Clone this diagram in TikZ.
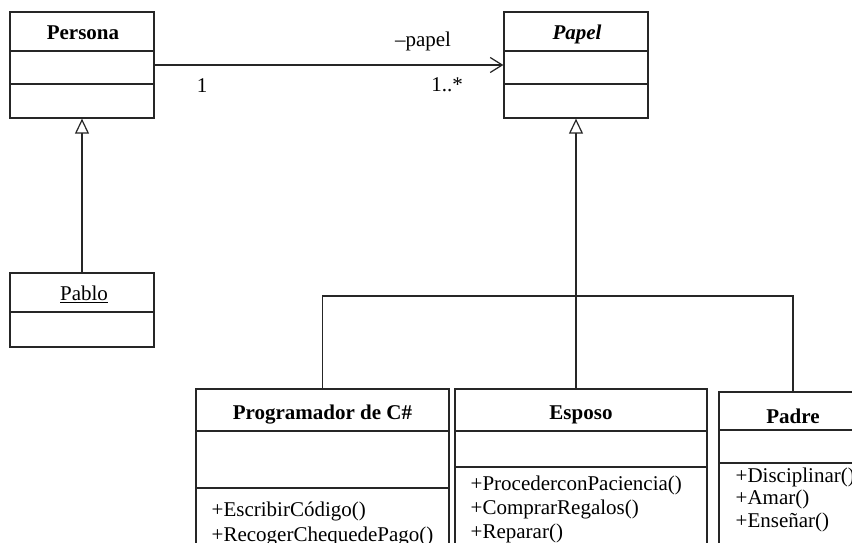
\documentclass[tikz,border=0pt]{standalone}
\usepackage{fontspec}
\setmainfont{Liberation Serif}
\usetikzlibrary{arrows.meta}
\definecolor{lc}{HTML}{262626}
\begin{document}
\begin{tikzpicture}[x=1pt,y=-1pt,
  box/.style={draw=lc, line width=1.3pt, inner sep=0pt, minimum width=#1},
  div/.style={draw=lc, line width=1.2pt},
  txt/.style={inner sep=0pt, font=\fontsize{21}{24}\selectfont, text=black},
  ttl/.style={inner sep=0pt, font=\fontsize{21}{24}\selectfont\bfseries, text=black, anchor=base},
  mth/.style={txt, anchor=base west},
  inh/.style={draw=lc, line width=1.2pt, -{Triangle[open, length=15pt, width=14pt, line width=1.2pt]}},
  assoc/.style={draw=lc, line width=1.2pt, -{Straight Barb[length=12pt, width=15pt, line width=1.2pt]}}
]
\useasboundingbox (0,0) rectangle (852,543);
\clip (0,0) rectangle (852,543);
\fill[white] (0,0) rectangle (852,543);

% Persona
\node[box=144pt, minimum height=106pt] (persona) at (82,65) {};
\draw[div] (persona.west |- 0,51) -- (persona.east |- 0,51);
\draw[div] (persona.west |- 0,84) -- (persona.east |- 0,84);
\node[ttl] (personaT) at (83,39.5) {Persona};

% Papel
\node[box=144pt, minimum height=106pt] (papel) at (576,65) {};
\draw[div] (papel.west |- 0,51) -- (papel.east |- 0,51);
\draw[div] (papel.west |- 0,84) -- (papel.east |- 0,84);
\node[ttl, font=\fontsize{21}{24}\selectfont\bfseries\itshape] (papelT) at (577,39.5) {Papel};

% Pablo
\node[box=144pt, minimum height=74pt] (pablo) at (82,310) {};
\draw[div] (pablo.west |- 0,312) -- (pablo.east |- 0,312);
\node[txt, anchor=base] (pabloT) at (84,300.7) {\underline{Pablo}};

% Programador de C#
\node[box=253pt, minimum height=191pt] (prog) at (322.5,484.5) {};
\draw[div] (prog.west |- 0,431) -- (prog.east |- 0,431);
\draw[div] (prog.west |- 0,488) -- (prog.east |- 0,488);
\node[ttl] (progT) at (322.5,419) {Programador de C\#};
\node[mth] (progM1) at (211.5,516) {+EscribirCódigo()};
\node[mth] (progM2) at (211.5,541) {+RecogerChequedePago()};

% Esposo
\node[box=252pt, minimum height=191pt] (esposo) at (581,484.5) {};
\draw[div] (esposo.west |- 0,431) -- (esposo.east |- 0,431);
\draw[div] (esposo.west |- 0,467) -- (esposo.east |- 0,467);
\node[ttl] (esposoT) at (581,419) {Esposo};
\node[mth] (espM1) at (470.5,490) {+ProcederconPaciencia()};
\node[mth] (espM2) at (470.5,514) {+ComprarRegalos()};
\node[mth] (espM3) at (470.5,538) {+Reparar()};

% Padre
\node[box=148pt, minimum height=188pt] (padre) at (793,486) {};
\draw[div] (padre.west |- 0,430) -- (padre.east |- 0,430);
\draw[div] (padre.west |- 0,463) -- (padre.east |- 0,463);
\node[ttl] (padreT) at (793,423) {Padre};
\node[mth] (padM1) at (735.5,482) {+Disciplinar()};
\node[mth] (padM2) at (735.5,504.5) {+Amar()};
\node[mth] (padM3) at (735.5,527) {+Enseñar()};

% Association
\draw[assoc] (persona.east) -- (papel.west);
\node[txt, anchor=base] (rolLbl) at (423,47) {–papel};
\node[txt, anchor=base] (multA) at (202,92.5) {1};
\node[txt, anchor=base] (multB) at (447,91.7) {1..*};

% Generalisation Persona <- Pablo
\draw[inh] (pablo.north) -- (persona.south);

% Generalisation Papel <- subclasses
\coordinate (bus) at (576,296);
\draw[div] (prog.north) |- (bus);
\draw[div] (padre.north) |- (bus);
\draw[inh] (papel.south |- esposo.north) -- (papel.south);
\end{tikzpicture}
\end{document}
